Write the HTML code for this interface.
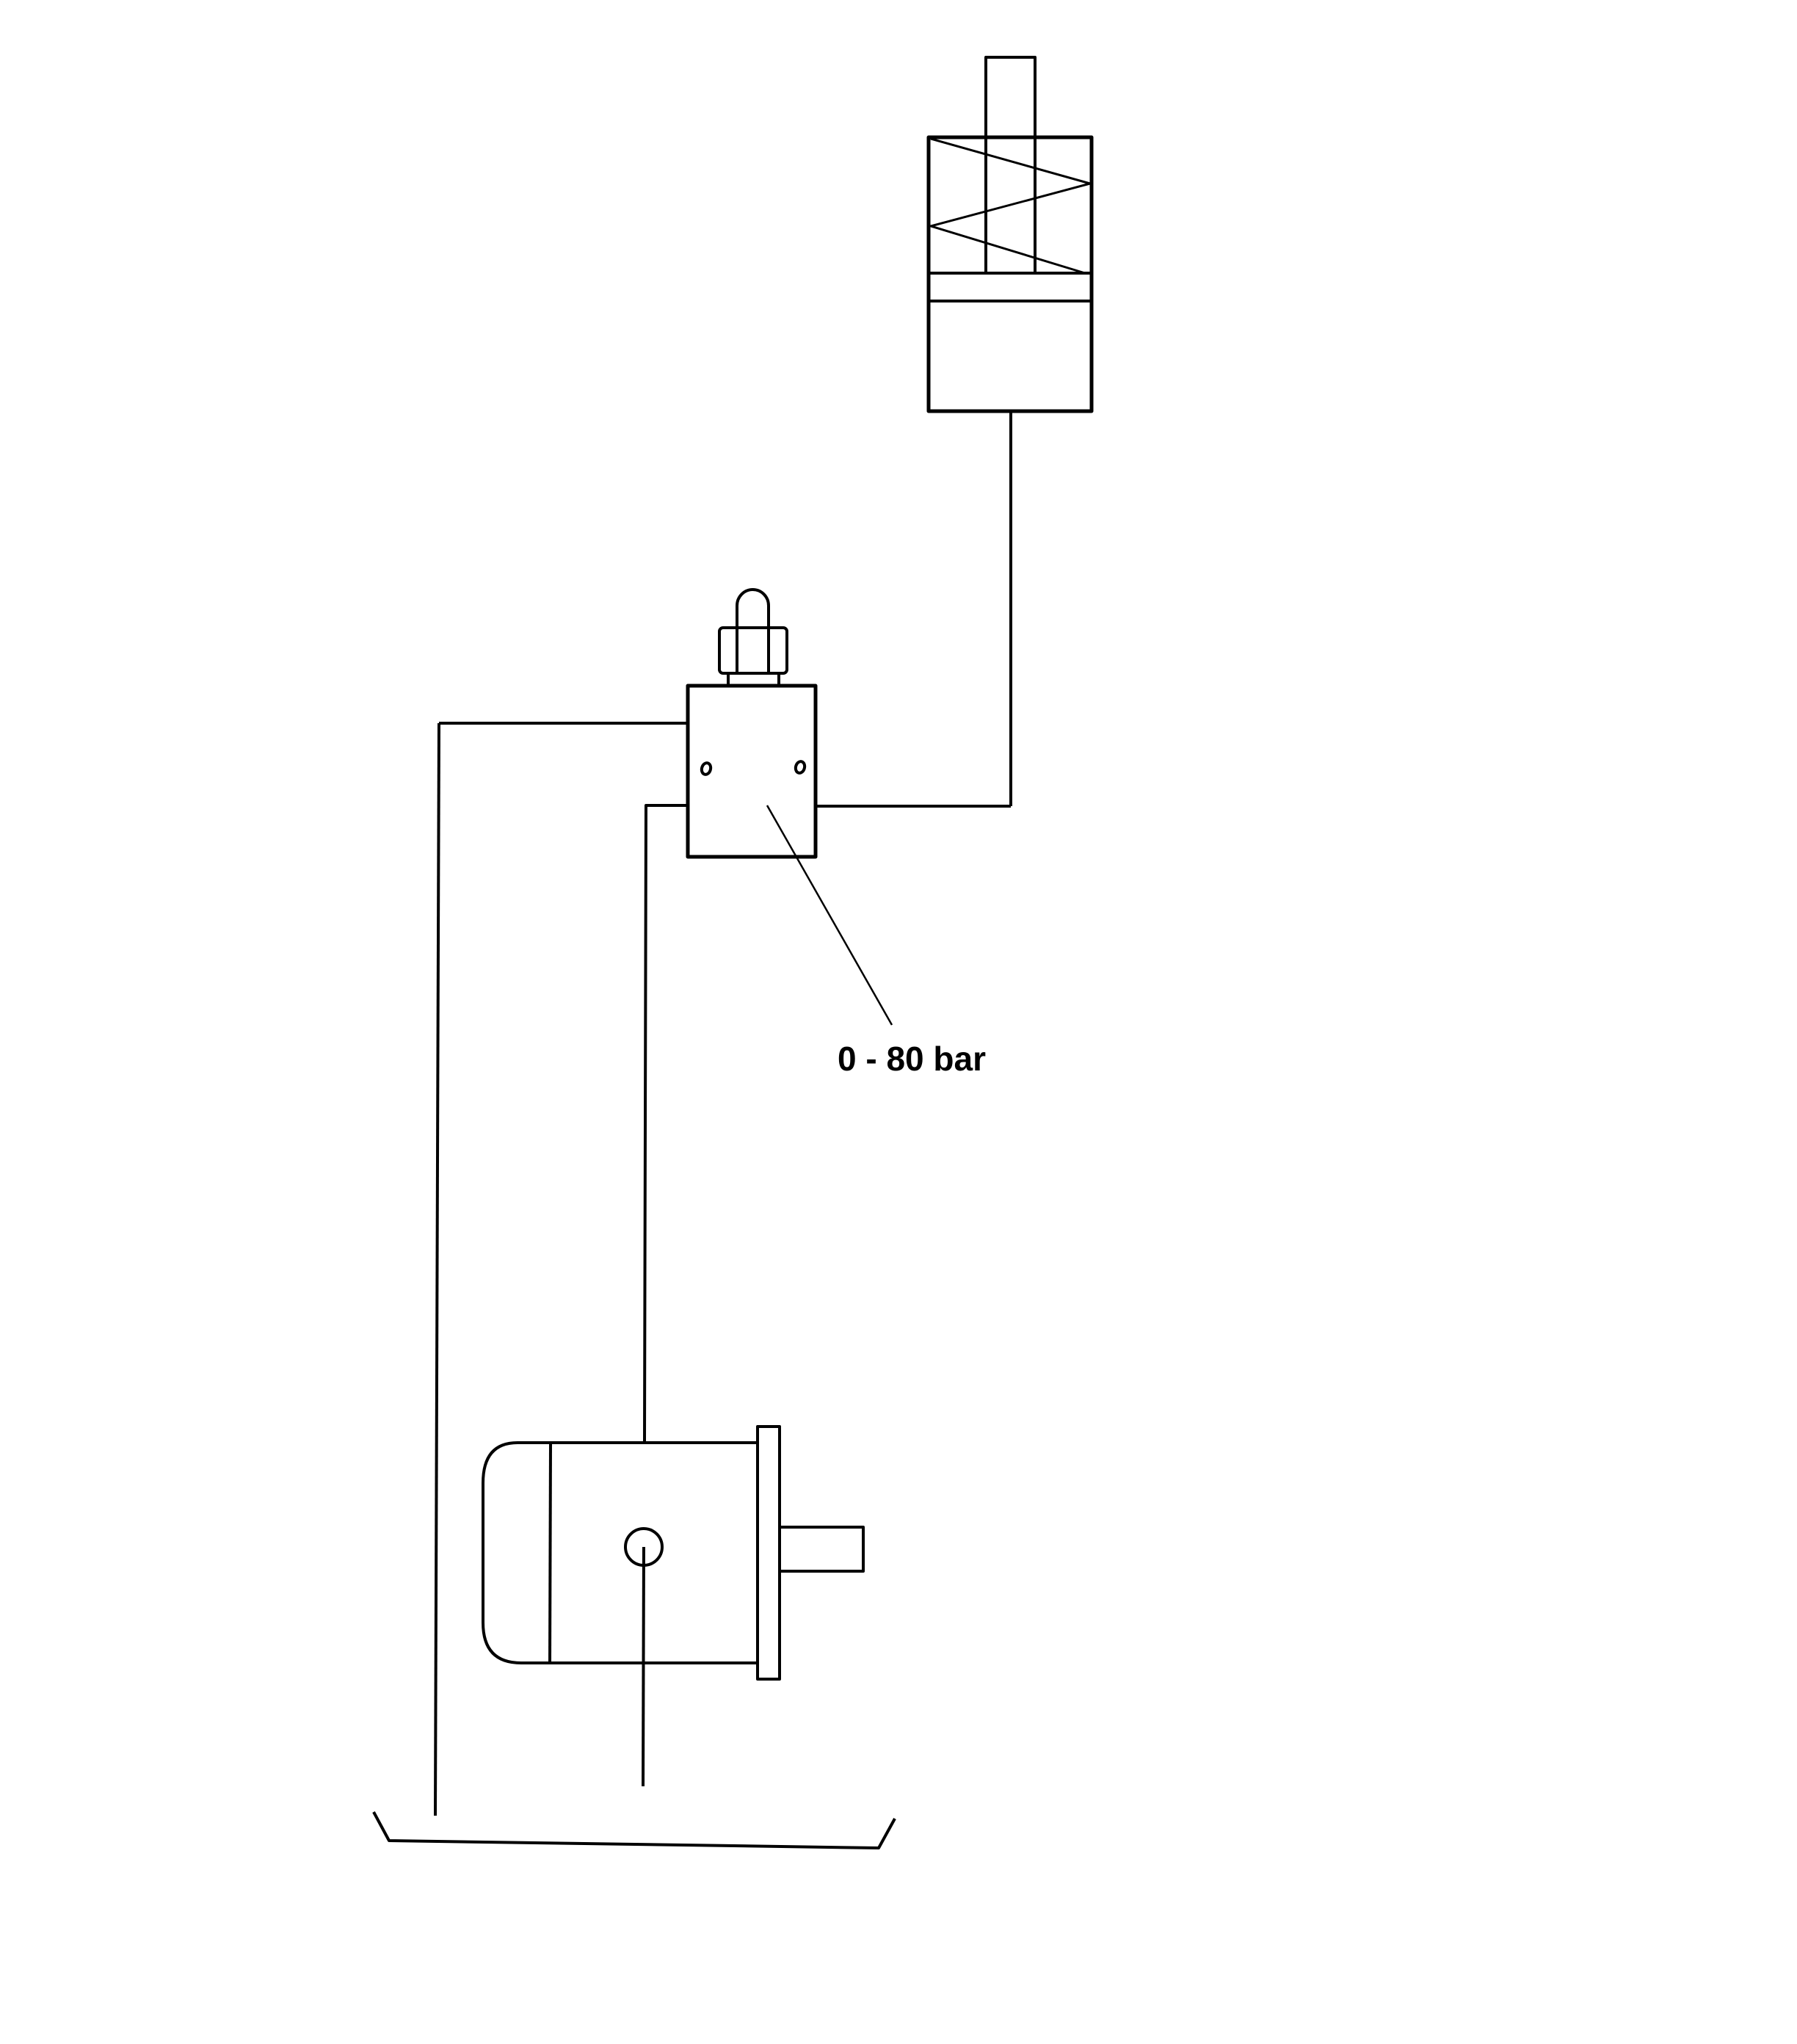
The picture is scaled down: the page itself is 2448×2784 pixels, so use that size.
<!DOCTYPE html>
<html><head><meta charset="utf-8"><style>
html,body{margin:0;padding:0;background:#fff;}
svg{display:block;}
</style></head><body>
<svg width="2448" height="2784" viewBox="0 0 2448 2784" xmlns="http://www.w3.org/2000/svg" fill="none" stroke="#000" stroke-width="4" stroke-linejoin="round">
<!-- Cylinder -->
<rect x="1343" y="78" width="67" height="294"/>
<rect x="1265" y="187" width="222" height="373" stroke-width="5"/>
<line x1="1265" y1="372" x2="1487" y2="372"/>
<line x1="1265" y1="410" x2="1487" y2="410"/>
<polyline points="1268,189 1485,250 1268,308 1478,372" stroke-width="3"/>
<line x1="1377" y1="560" x2="1377" y2="1098"/>
<!-- Valve -->
<path d="M1004 855 V825 A21.5 22 0 0 1 1047 825 V855"/>
<rect x="980" y="855" width="92" height="62" rx="5"/>
<line x1="1004" y1="855" x2="1004" y2="917"/>
<line x1="1047" y1="855" x2="1047" y2="917"/>
<line x1="992" y1="917" x2="992" y2="934"/>
<line x1="1061" y1="917" x2="1061" y2="934"/>
<rect x="937" y="934" width="174" height="233" stroke-width="5"/>
<ellipse cx="962" cy="1047" rx="6" ry="8" stroke-width="4" transform="rotate(15 962 1047)"/>
<ellipse cx="1090" cy="1045" rx="6" ry="8" stroke-width="4" transform="rotate(15 1090 1045)"/>
<line x1="1111" y1="1098" x2="1377" y2="1098"/>
<line x1="1045" y1="1097" x2="1215" y2="1396" stroke-width="2.5"/>
<line x1="937" y1="985" x2="598" y2="985"/>
<polyline points="598,985 593,2473"/>
<polyline points="937,1097 880,1097 878,1963"/>
<!-- Motor -->
<path d="M1032 1965 H705 Q658 1965 658 2020 V2210 Q658 2265 710 2265 H1032"/>
<line x1="750" y1="1965" x2="749" y2="2265"/>
<rect x="1032" y="1943" width="30" height="344"/>
<rect x="1062" y="2080" width="114" height="60"/>
<circle cx="877" cy="2107" r="25"/>
<line x1="877" y1="2107" x2="876" y2="2433"/>
<!-- Tray -->
<polyline points="509,2468 530,2507 1197,2517 1219,2477"/>
<text x="1141" y="1458" font-family="Liberation Sans, Arial, sans-serif" font-weight="bold" font-size="46" fill="#000" stroke="none">0 - 80 bar</text>
</svg>
</body></html>
